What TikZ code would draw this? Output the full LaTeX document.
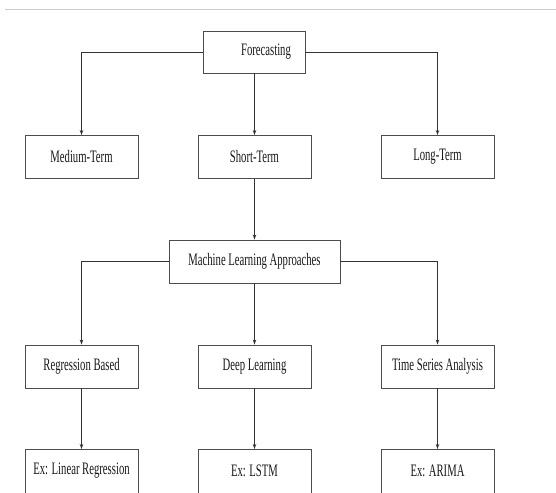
\documentclass[tikz,border=0pt]{standalone}
\usepackage{fontspec}
\setmainfont{Liberation Serif}[FakeStretch=0.61]
\usetikzlibrary{arrows.meta}
\begin{document}
\begin{tikzpicture}[x=1pt,y=-1pt,
  lbl/.style={font=\fontsize{17.5}{20}\selectfont, text=black!90},
  box/.style={lbl, draw=black!70, line width=0.9pt, fill=white, minimum width=113pt, minimum height=43pt, inner sep=0pt},
  link/.style={draw=black!80, line width=0.7pt},
  arr/.style={link, -{Stealth[length=5pt,width=3.5pt]}}]
\useasboundingbox (0,0) rectangle (556,492);
\clip (0,0) rectangle (556,492);
\draw[black!20, line width=1pt] (5,10) -- (556,10);
\node[box, minimum width=102pt, minimum height=42pt] (fc) at (254,52) {\hspace{24pt}Forecasting};
\node[box] (mt) at (81.5,157) {Medium-Term};
\node[box] (st) at (254.5,157) {Short-Term};
\node[box] (lt) at (437.5,157) {Long-Term};
\node[box, minimum width=171pt] (ml) at (254.5,261.5) {Machine Learning Approaches};
\node[box] (rb) at (81.5,366.5) {Regression Based};
\node[box] (dl) at (254.5,366.5) {Deep Learning};
\node[box] (ts) at (437.5,366.5) {Time Series Analysis};
\node[box, minimum height=70pt, anchor=north] (e1) at (81.5,449) {};
\node[box, minimum height=70pt, anchor=north] (e2) at (254.5,449) {};
\node[box, minimum height=70pt, anchor=north] (e3) at (437.5,449) {};
\node[lbl] (t1) at (81.5,471) {Ex: Linear Regression};
\node[lbl] (t2) at (254.5,471) {Ex: LSTM};
\node[lbl] (t3) at (437.5,471) {Ex: ARIMA};
\draw[arr] (fc.west) -| (mt.north);
\draw[arr] (fc.east) -| (lt.north);
\draw[arr] (fc.south -| st.north) -- (st.north);
\draw[arr] (st.south) -- (ml.north -| st.south);
\draw[arr] (ml.west) -| (rb.north);
\draw[arr] (ml.east) -| (ts.north);
\draw[arr] (ml.south -| dl.north) -- (dl.north);
\draw[arr] (rb.south) -- (e1.north);
\draw[arr] (dl.south) -- (e2.north);
\draw[arr] (ts.south) -- (e3.north);
\end{tikzpicture}
\end{document}
